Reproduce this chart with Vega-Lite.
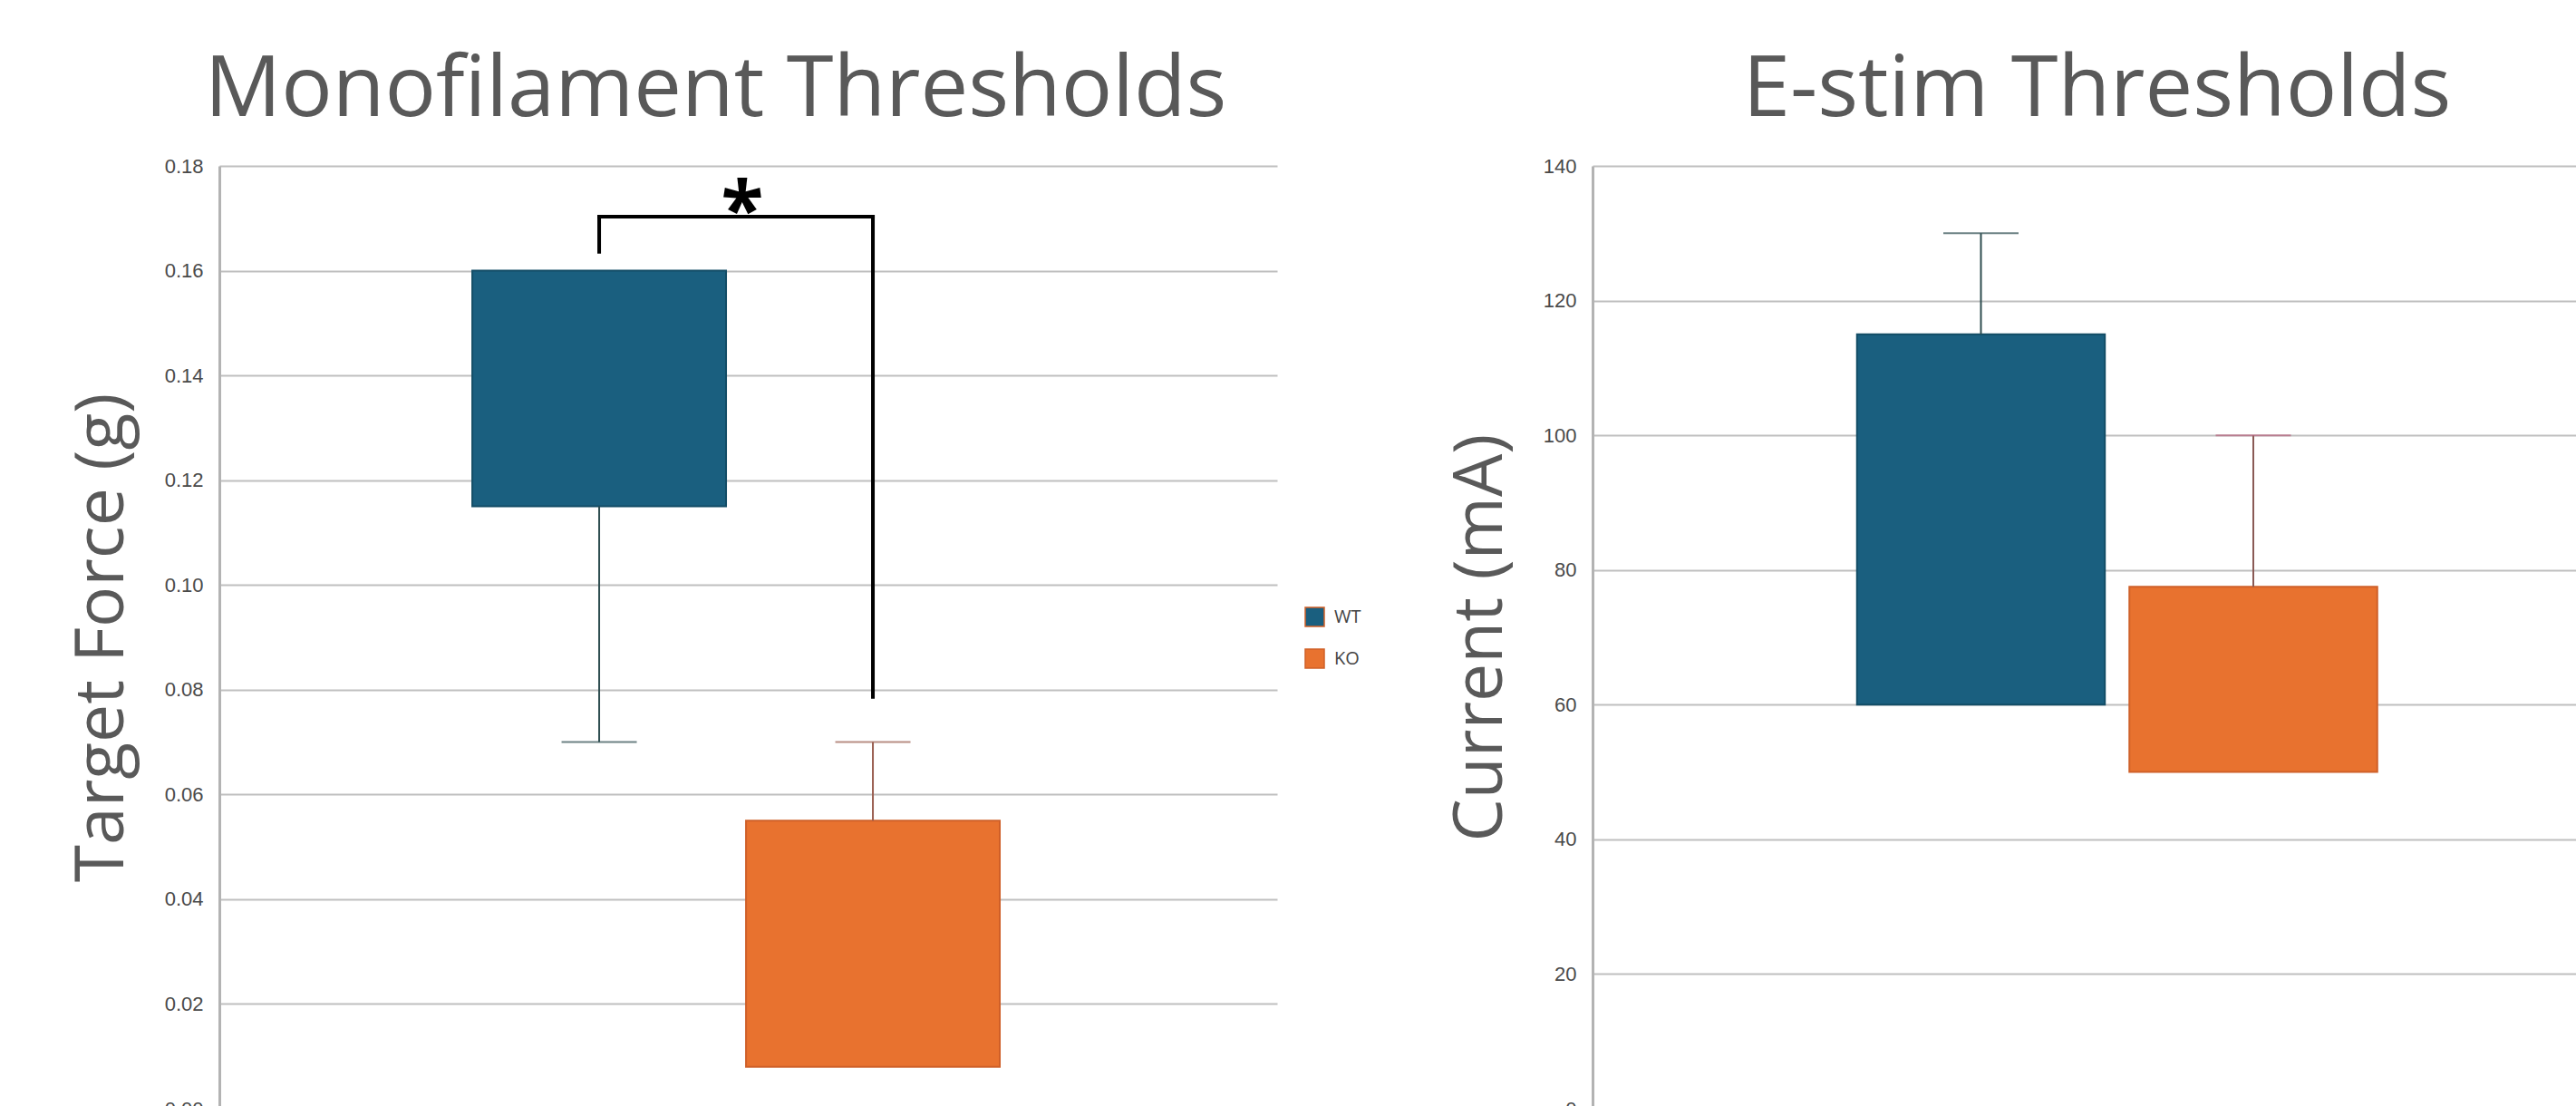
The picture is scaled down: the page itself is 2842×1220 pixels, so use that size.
{
  "$schema": "https://vega.github.io/schema/vega-lite/v6.json",
  "background": "white",
  "padding": {"left": 75, "top": 53, "right": 0, "bottom": 0},
  "spacing": 94,
  "config": {
    "view": {"stroke": null},
    "font": "Open Sans",
    "title": {"font": "Open Sans", "fontSize": 94, "fontWeight": "normal", "color": "#595959", "baseline": "alphabetic", "offset": 24},
    "axis": {
      "labelFont": "Liberation Sans", "labelFontSize": 22, "labelColor": "#4a4a4a",
      "titleFont": "Open Sans", "titleFontSize": 75, "titleFontWeight": "normal", "titleColor": "#595959",
      "gridColor": "#bfbfbf", "gridWidth": 2, "domainColor": "#b3b3b3", "domainWidth": 3, "ticks": false, "labelPadding": 18, "titlePadding": 30
    },
    "legend": {"labelFont": "Open Sans", "labelFontSize": 20, "labelColor": "#444444", "symbolType": "square", "symbolSize": 441, "symbolStrokeWidth": 1.5, "rowPadding": 19, "labelOffset": 10, "padding": 0}
  },
  "datasets": {
    "mono": [
      {"group": "WT", "low": 0.115, "high": 0.16, "wFrom": 0.115, "wTo": 0.07},
      {"group": "KO", "low": 0.008, "high": 0.055, "wFrom": 0.055, "wTo": 0.07}
    ],
    "estim": [
      {"group": "WT", "low": 60, "high": 115, "wFrom": 115, "wTo": 130},
      {"group": "KO", "low": 50, "high": 77.5, "wFrom": 77.5, "wTo": 100}
    ],
    "bracketLegs": [
      {"group": "WT", "from": 0.1636, "to": 0.1703},
      {"group": "KO", "from": 0.0786, "to": 0.1703}
    ],
    "bracketTop": [
      {"start": "WT", "end": "KO", "level": 0.1703}
    ],
    "star": [
      {"group": "WT", "level": 0.1664, "label": "*"}
    ]
  },
  "resolve": {"scale": {"color": "independent", "x": "independent", "y": "independent"}, "legend": {"color": "independent"}},
  "hconcat": [
    {
      "title": {"text": "Monofilament Thresholds", "dx": -36},
      "width": 1167,
      "height": 1040,
      "layer": [
        {
          "data": {"name": "mono"},
          "mark": {"type": "bar", "strokeWidth": 2},
          "encoding": {
            "x": {"field": "group", "type": "nominal", "sort": ["WT", "KO"], "axis": null,
                  "scale": {"domain": ["WT", "KO"], "paddingInner": 0.073, "paddingOuter": 0.9687, "align": 0.477}},
            "y": {"field": "low", "type": "quantitative", "title": "Target Force (g)",
                  "scale": {"domain": [0, 0.18], "nice": false},
                  "axis": {"values": [0, 0.02, 0.04, 0.06, 0.08, 0.1, 0.12, 0.14, 0.16, 0.18], "format": ".2f"}},
            "y2": {"field": "high"},
            "color": {"field": "group", "type": "nominal", "title": null,
                      "scale": {"domain": ["WT", "KO"], "range": ["#1a5f7f", "#e8722f"]},
                      "legend": {"orient": "none", "legendX": 1197, "legendY": 486, "title": null}},
            "stroke": {"condition": {"test": "datum.group === 'WT'", "value": "#134d66"}, "value": "#cf6029"}
          }
        },
        {
          "data": {"name": "mono"},
          "mark": {"type": "rule", "strokeWidth": 2},
          "encoding": {
            "x": {"field": "group", "type": "nominal"},
            "y": {"field": "wFrom", "type": "quantitative"},
            "y2": {"field": "wTo"},
            "color": {"condition": {"test": "datum.group === 'WT'", "value": "#2e4d50"}, "value": "#9a5e50"}
          }
        },
        {
          "data": {"name": "mono"},
          "mark": {"type": "tick", "thickness": 2, "size": 83},
          "encoding": {
            "x": {"field": "group", "type": "nominal"},
            "y": {"field": "wTo", "type": "quantitative"},
            "color": {"condition": {"test": "datum.group === 'WT'", "value": "#2e4d50"}, "value": "#9a5e50"}
          }
        },
        {
          "data": {"name": "bracketLegs"},
          "mark": {"type": "rule", "strokeWidth": 4, "color": "black", "strokeCap": "square"},
          "encoding": {
            "x": {"field": "group", "type": "nominal"},
            "y": {"field": "from", "type": "quantitative"},
            "y2": {"field": "to"}
          }
        },
        {
          "data": {"name": "bracketTop"},
          "mark": {"type": "rule", "strokeWidth": 4, "color": "black", "strokeCap": "square"},
          "encoding": {
            "x": {"field": "start", "type": "nominal"},
            "x2": {"field": "end"},
            "y": {"field": "level", "type": "quantitative"}
          }
        },
        {
          "data": {"name": "star"},
          "mark": {"type": "text", "font": "Open Sans", "fontSize": 86, "fontWeight": "bold", "color": "black", "baseline": "alphabetic", "align": "center", "dx": 18},
          "encoding": {
            "x": {"field": "group", "type": "nominal", "bandPosition": 1},
            "y": {"field": "level", "type": "quantitative"},
            "text": {"field": "label"}
          }
        }
      ]
    },
    {
      "title": {"text": "E-stim Thresholds", "dx": -27},
      "width": 1167,
      "height": 1040,
      "layer": [
        {
          "data": {"name": "estim"},
          "mark": {"type": "bar", "strokeWidth": 2},
          "encoding": {
            "x": {"field": "group", "type": "nominal", "sort": ["WT", "KO"], "axis": null,
                  "scale": {"domain": ["WT", "KO"], "paddingInner": 0.09, "paddingOuter": 0.9866, "align": 0.492}},
            "y": {"field": "low", "type": "quantitative", "title": "Current (mA)",
                  "scale": {"domain": [0, 140], "nice": false},
                  "axis": {"values": [0, 20, 40, 60, 80, 100, 120, 140]}},
            "y2": {"field": "high"},
            "color": {"field": "group", "type": "nominal",
                      "scale": {"domain": ["WT", "KO"], "range": ["#1a5f7f", "#e8722f"]},
                      "legend": null},
            "stroke": {"condition": {"test": "datum.group === 'WT'", "value": "#134d66"}, "value": "#cf6029"}
          }
        },
        {
          "data": {"name": "estim"},
          "mark": {"type": "rule", "strokeWidth": 2},
          "encoding": {
            "x": {"field": "group", "type": "nominal"},
            "y": {"field": "wFrom", "type": "quantitative"},
            "y2": {"field": "wTo"},
            "color": {"condition": {"test": "datum.group === 'WT'", "value": "#2e4d50"}, "value": "#8a5a55"}
          }
        },
        {
          "data": {"name": "estim"},
          "mark": {"type": "tick", "thickness": 2, "size": 83},
          "encoding": {
            "x": {"field": "group", "type": "nominal"},
            "y": {"field": "wTo", "type": "quantitative"},
            "color": {"condition": {"test": "datum.group === 'WT'", "value": "#2e4d50"}, "value": "#b5607a"}
          }
        }
      ]
    }
  ]
}
